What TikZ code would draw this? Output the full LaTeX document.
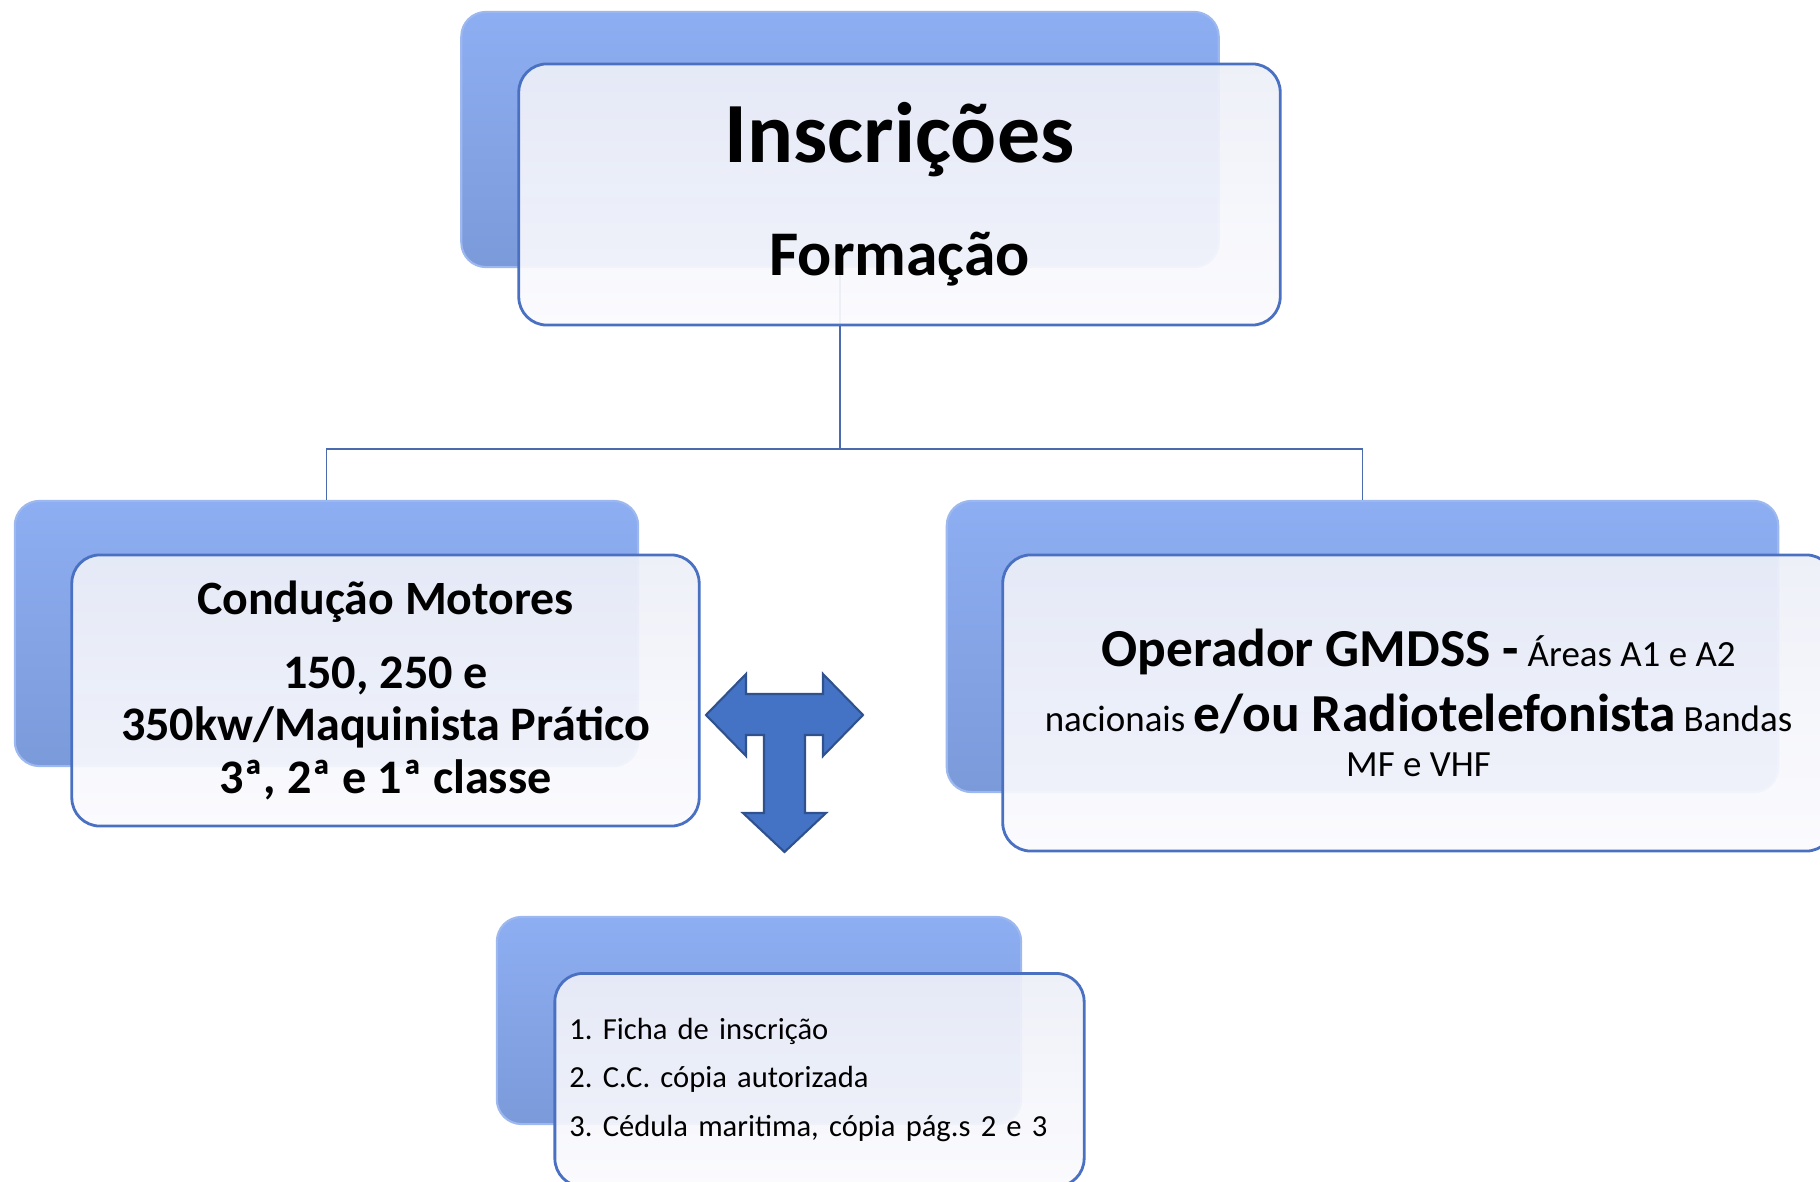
\documentclass[tikz,border=0pt]{standalone}
\usepackage{fontspec}
\setmainfont{Carlito}
\frenchspacing
\usetikzlibrary{arrows}
\definecolor{backtop}{HTML}{8DAEF2}
\definecolor{backmid}{HTML}{7F9EDD}
\definecolor{backbot}{HTML}{7B9ADA}
\definecolor{backedge}{HTML}{9DB8EE}
\definecolor{fronttop}{HTML}{EDEFF8}
\definecolor{frontbot}{HTML}{FBFBFE}
\definecolor{frontedge}{HTML}{4A70C2}
\definecolor{linkblue}{HTML}{4A6BAE}
\definecolor{arrowfill}{HTML}{4472C4}
\definecolor{arrowedge}{HTML}{2F528F}
\tikzset{>=stealth,
  back/.style={rounded corners=7pt,top color=backtop,middle color=backmid,bottom color=backbot,draw=backedge,line width=0.6pt,inner sep=0pt},
  front/.style={rounded corners=8pt,draw=frontedge,line width=0.8pt,top color=fronttop,bottom color=frontbot,fill opacity=0.93,text opacity=1,inner sep=0pt,align=center},
  link/.style={draw=linkblue,line width=0.5pt}}

\begin{document}
\begin{tikzpicture}[x=0.01cm,y=-0.01cm]
\useasboundingbox (0,0) rectangle (1820,1182);
\clip (0,0) rectangle (1820,1182);
\node[back,minimum width=7.57cm,minimum height=2.55cm] (topback) at (840,139.5) {};
\node[back,minimum width=6.23cm,minimum height=2.65cm] (leftback) at (326.5,633.5) {};
\node[back,minimum width=8.31cm,minimum height=2.91cm] (rightback) at (1362.5,646.5) {};
\node[back,minimum width=5.24cm,minimum height=2.07cm] (listback) at (759,1020.5) {};
\coordinate (split) at (840,449);
\draw[link] (topback.south) -- (split) -| (leftback.north);
\draw[link] (split) -| (rightback.north);
\node[front,minimum width=7.61cm,minimum height=2.61cm,font=\bfseries\fontsize{18.1}{32}\selectfont] (topfront) at (899.5,194.5)
  {{\fontsize{24.4}{32}\selectfont Inscrições}\\Formação};
\node[front,minimum width=6.27cm,minimum height=2.71cm,font=\bfseries\fontsize{13.7}{15}\selectfont] (leftfront) at (385.5,690.5)
  {{\fontsize{13.6}{15}\selectfont Condução Motores}\\[6pt]150, 250 e\\350kw/Maquinista Prático\\3ª, 2ª e 1ª classe};
\node[front,minimum width=8.31cm,minimum height=2.96cm,font=\fontsize{10.5}{12.8}\selectfont] (rightfront) at (1418.5,703)
  {{\bfseries\fontsize{15.2}{17}\selectfont Operador GMDSS -} Áreas A1 e A2\\[4.6pt]
   nacionais {\bfseries\fontsize{15.2}{17}\selectfont e/ou Radiotelefonista} Bandas\\MF e VHF};
\node[front,minimum width=5.29cm,minimum height=2.13cm,text width=5.0cm,align=left,font=\fontsize{8.7}{13.9}\selectfont] (listfront) at (819.5,1080)
  {1. Ficha de inscrição\\2. C.C. cópia autorizada\\3. Cédula maritima, cópia pág.s 2 e 3};
\draw[fill=arrowfill,draw=arrowedge,line width=0.6pt] (706,715) -- (746,674) -- (746,694) -- (823,694)
  -- (823,674) -- (863,715) -- (823,756) -- (823,735) -- (805,735) -- (805,813) -- (826,813)
  -- (784.5,852) -- (743,813) -- (764,813) -- (764,735) -- (746,735) -- (746,756) -- cycle;
\end{tikzpicture}
\end{document}
